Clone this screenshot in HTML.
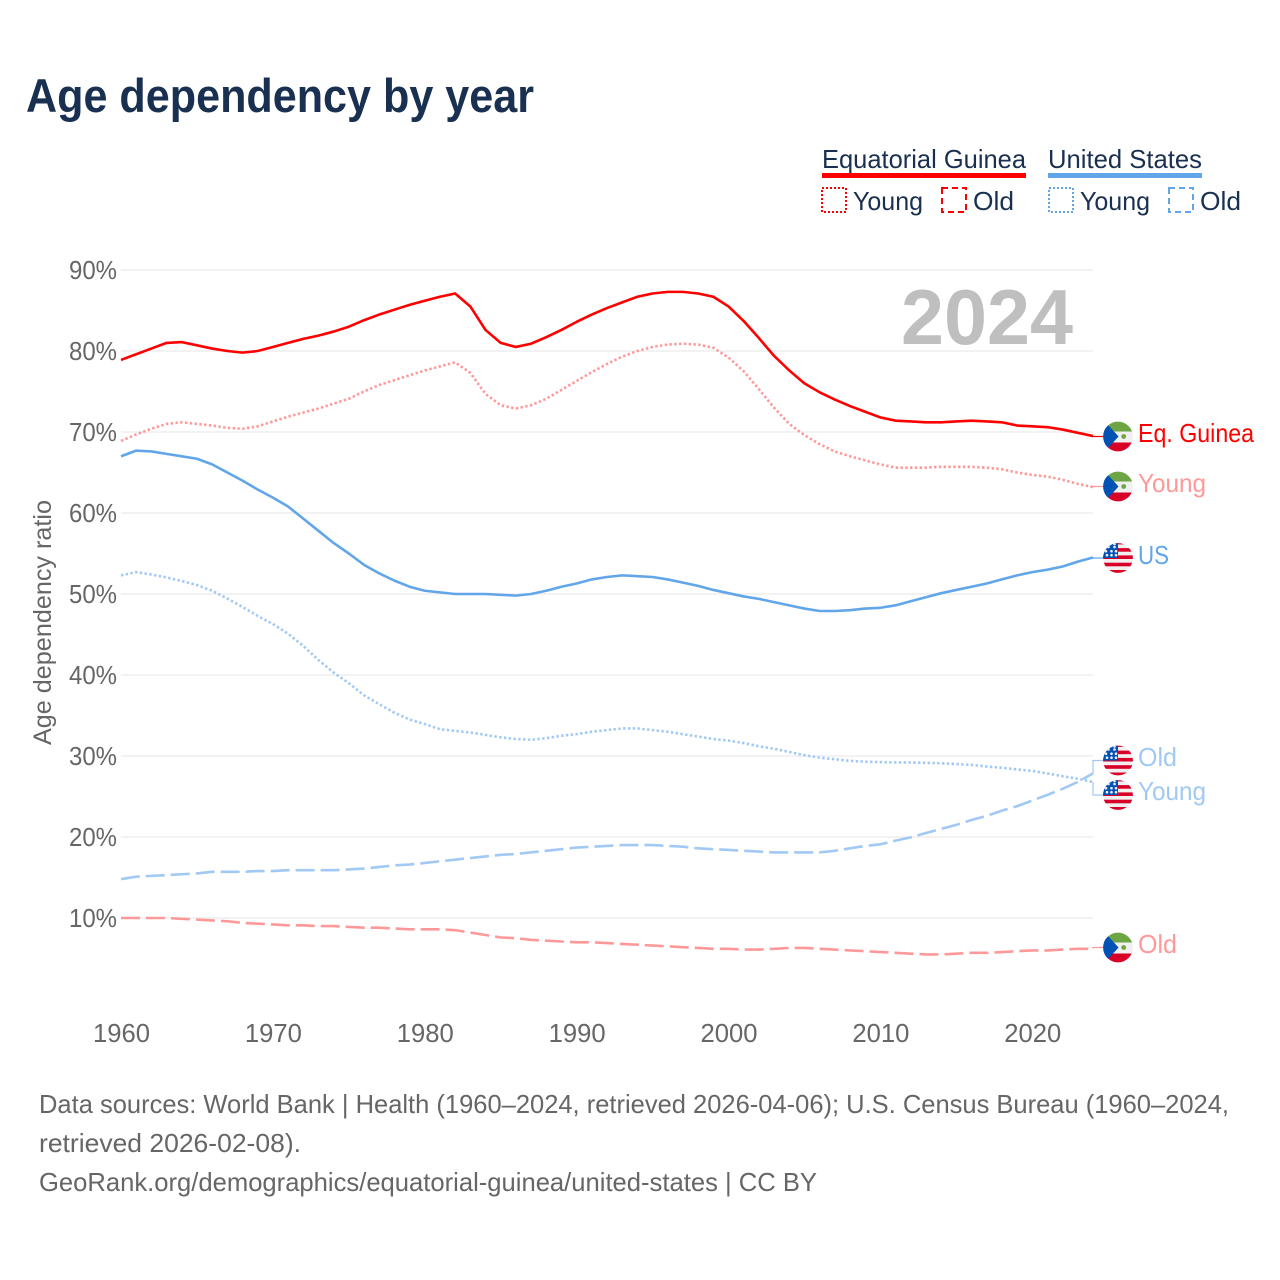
<!DOCTYPE html>
<html lang="en">
<head>
<meta charset="utf-8">
<title>Age dependency by year</title>
<style>
html,body{margin:0;padding:0;background:#fff;}
svg{display:block;font-family:"Liberation Sans",sans-serif;}
</style>
</head>
<body>
<svg id="chart" xmlns="http://www.w3.org/2000/svg" width="1280" height="1280" viewBox="0 0 1280 1280">
<defs>
<clipPath id="flag-clip"><circle cx="0" cy="0" r="14.9"/></clipPath>
<g id="flag-eg" clip-path="url(#flag-clip)">
<rect x="-16" y="-16" width="32" height="32" fill="#f0f0f0"/>
<rect x="-16" y="-16" width="32" height="11" fill="#6da544"/>
<rect x="-16" y="6" width="32" height="10" fill="#d80027"/>
<polygon points="-16,-16 -9,-10.5 0.5,0 -9,10.5 -16,16" fill="#0052b4"/>
<circle cx="5.7" cy="0" r="2.4" fill="#6da544"/>
</g>
<g id="flag-us" clip-path="url(#flag-clip)">
<rect x="-16" y="-16" width="32" height="32" fill="#f0f0f0"/>
<rect x="-16" y="-17.2" width="32" height="3.6" fill="#d80027"/>
<rect x="-16" y="-9.9" width="32" height="3.6" fill="#d80027"/>
<rect x="-16" y="-2.6" width="32" height="3.6" fill="#d80027"/>
<rect x="-16" y="4.7" width="32" height="3.6" fill="#d80027"/>
<rect x="-16" y="12" width="32" height="4" fill="#d80027"/>
<rect x="-16" y="-16" width="16" height="16" fill="#0052b4"/>
<g fill="#f0f0f0">
<circle cx="-9.5" cy="-11" r="1.3"/><circle cx="-3.5" cy="-11" r="1.3"/><circle cx="-3.5" cy="-14" r="1.3"/>
<circle cx="-12" cy="-6.8" r="1.3"/><circle cx="-6.5" cy="-6.8" r="1.3"/><circle cx="-2" cy="-6.8" r="1.3"/>
<circle cx="-11" cy="-2.8" r="1.3"/><circle cx="-6.5" cy="-2.8" r="1.3"/><circle cx="-2" cy="-2.8" r="1.3"/>
</g>
</g>
</defs>

<text x="26" y="112" font-size="47" font-weight="700" fill="#1a3050" textLength="508" lengthAdjust="spacingAndGlyphs">Age dependency by year</text>

<g font-size="26" fill="#1a3050">
<text x="822" y="168" textLength="204" lengthAdjust="spacingAndGlyphs">Equatorial Guinea</text>
<rect x="822" y="173" width="204" height="5" fill="#ff0000"/>
<text x="1048" y="168" textLength="154" lengthAdjust="spacingAndGlyphs">United States</text>
<rect x="1048" y="173" width="154" height="5" fill="#62a6ea"/>
<rect x="822" y="188" width="24" height="24" fill="none" stroke="#ff0000" stroke-width="2" stroke-dasharray="2 2"/>
<text x="853" y="210" textLength="70" lengthAdjust="spacingAndGlyphs">Young</text>
<rect x="942" y="188" width="24" height="24" fill="none" stroke="#ff0000" stroke-width="2" stroke-dasharray="6 4"/>
<text x="973" y="210" textLength="41" lengthAdjust="spacingAndGlyphs">Old</text>
<rect x="1049" y="188" width="24" height="24" fill="none" stroke="#62a6ea" stroke-width="2" stroke-dasharray="2 2"/>
<text x="1080" y="210" textLength="70" lengthAdjust="spacingAndGlyphs">Young</text>
<rect x="1169" y="188" width="24" height="24" fill="none" stroke="#62a6ea" stroke-width="2" stroke-dasharray="6 4"/>
<text x="1200" y="210" textLength="41" lengthAdjust="spacingAndGlyphs">Old</text>
</g>

<g id="grid"></g>
<g id="yticks"></g>
<g id="xticks"></g>

<text transform="translate(51,622.5) rotate(-90)" text-anchor="middle" font-size="25" fill="#666666" textLength="245" lengthAdjust="spacingAndGlyphs">Age dependency ratio</text>

<text x="901" y="344" font-size="78" font-weight="700" fill="#bfbfbf" textLength="172" lengthAdjust="spacingAndGlyphs">2024</text>

<g id="connectors"></g>
<g id="series"></g>

<g font-size="26">
<use href="#flag-eg" x="1118" y="436.5"/>
<text x="1138" y="442" fill="#ff0000" textLength="116" lengthAdjust="spacingAndGlyphs">Eq. Guinea</text>
<use href="#flag-eg" x="1118" y="486.5"/>
<text x="1138" y="492" fill="#ff9999" textLength="68" lengthAdjust="spacingAndGlyphs">Young</text>
<use href="#flag-us" x="1118" y="558"/>
<text x="1138" y="564" fill="#62a6ea" textLength="31" lengthAdjust="spacingAndGlyphs">US</text>
<use href="#flag-us" x="1118" y="760.5"/>
<text x="1138" y="766" fill="#a1c9f4" textLength="39" lengthAdjust="spacingAndGlyphs">Old</text>
<use href="#flag-us" x="1118" y="795"/>
<text x="1138" y="800" fill="#a1c9f4" textLength="68" lengthAdjust="spacingAndGlyphs">Young</text>
<use href="#flag-eg" x="1118" y="947.5"/>
<text x="1138" y="953" fill="#ff9999" textLength="39" lengthAdjust="spacingAndGlyphs">Old</text>
</g>

<g font-size="26" fill="#666666">
<text x="39" y="1113" textLength="1190" lengthAdjust="spacingAndGlyphs">Data sources: World Bank | Health (1960–2024, retrieved 2026-04-06); U.S. Census Bureau (1960–2024,</text>
<text x="39" y="1152" textLength="262" lengthAdjust="spacingAndGlyphs">retrieved 2026-02-08).</text>
<text x="39" y="1191" textLength="778" lengthAdjust="spacingAndGlyphs">GeoRank.org/demographics/equatorial-guinea/united-states | CC BY</text>
</g>
</svg>
<script>
const startYear = 1960;
const xTickYears = [1960, 1970, 1980, 1990, 2000, 2010, 2020];
const xTickLabels = ["1960", "1970", "1980", "1990", "2000", "2010", "2020"];
const yTickValues = [10, 20, 30, 40, 50, 60, 70, 80, 90];
const yTickLabels = ["10%", "20%", "30%", "40%", "50%", "60%", "70%", "80%", "90%"];

const egTotal = [78.9,79.6,80.3,81.0,81.1,80.7,80.3,80.0,79.8,80.0,80.5,81.0,81.5,81.9,82.4,83.0,83.8,84.5,85.1,85.7,86.2,86.7,87.1,85.5,82.6,81.0,80.5,80.9,81.7,82.6,83.6,84.5,85.3,86.0,86.7,87.1,87.3,87.3,87.1,86.7,85.5,83.7,81.6,79.4,77.6,76.0,74.9,74.0,73.2,72.5,71.8,71.4,71.3,71.2,71.2,71.3,71.4,71.3,71.2,70.8,70.7,70.6,70.3,69.9,69.5];
const egYoung = [68.9,69.7,70.4,71.0,71.2,71.0,70.8,70.5,70.4,70.7,71.3,71.9,72.4,72.9,73.5,74.1,75.0,75.8,76.4,77.0,77.6,78.1,78.6,77.3,74.7,73.3,72.9,73.3,74.1,75.2,76.3,77.4,78.4,79.3,80.0,80.5,80.8,80.9,80.8,80.4,79.2,77.5,75.3,73.0,71.0,69.6,68.5,67.6,67.0,66.5,66.0,65.6,65.6,65.6,65.7,65.7,65.7,65.6,65.4,65.0,64.7,64.5,64.1,63.6,63.2];
const egOld = [10.0,10.0,10.0,10.0,9.9,9.8,9.7,9.6,9.4,9.3,9.2,9.1,9.1,9.0,9.0,8.9,8.8,8.8,8.7,8.6,8.6,8.6,8.5,8.2,7.9,7.6,7.5,7.3,7.2,7.1,7.0,7.0,6.9,6.8,6.7,6.6,6.5,6.4,6.3,6.2,6.2,6.1,6.1,6.2,6.3,6.3,6.2,6.1,6.0,5.9,5.8,5.7,5.6,5.5,5.5,5.6,5.7,5.7,5.8,5.9,6.0,6.0,6.1,6.2,6.2];
const usTotal = [67.0,67.7,67.6,67.3,67.0,66.7,66.0,65.0,64.0,62.9,61.9,60.8,59.3,57.8,56.3,55.0,53.6,52.55,51.65,50.9,50.4,50.2,50.0,50.0,50.0,49.9,49.8,50.0,50.4,50.9,51.3,51.8,52.1,52.3,52.2,52.1,51.8,51.4,51.0,50.5,50.1,49.7,49.4,49.0,48.6,48.2,47.9,47.9,48.0,48.2,48.3,48.6,49.1,49.6,50.1,50.5,50.9,51.3,51.8,52.3,52.7,53.0,53.4,54.0,54.5];
const usYoung = [52.3,52.7,52.4,52.05,51.6,51.1,50.4,49.45,48.4,47.3,46.3,45.1,43.6,41.85,40.3,39.0,37.5,36.4,35.35,34.5,33.95,33.3,33.1,32.9,32.6,32.3,32.1,32.0,32.2,32.5,32.7,33.0,33.2,33.4,33.4,33.2,33.0,32.7,32.4,32.1,31.9,31.6,31.2,30.9,30.5,30.1,29.8,29.6,29.4,29.3,29.25,29.2,29.2,29.15,29.1,29.0,28.9,28.7,28.55,28.35,28.15,27.85,27.5,27.2,26.8];
const usOld = [14.8,15.1,15.2,15.3,15.4,15.5,15.7,15.7,15.7,15.8,15.8,15.9,15.9,15.9,15.9,16.0,16.1,16.3,16.5,16.6,16.8,17.0,17.2,17.4,17.6,17.8,17.9,18.1,18.3,18.5,18.7,18.8,18.9,19.0,19.0,19.0,18.9,18.8,18.6,18.5,18.4,18.3,18.2,18.1,18.1,18.1,18.1,18.3,18.6,18.9,19.1,19.55,19.95,20.5,21.0,21.5,22.1,22.6,23.25,23.8,24.5,25.2,25.95,26.8,27.85];

const NS = "http://www.w3.org/2000/svg";
function xScale(year) { return 121 + (year - 1960) * (972 / 64); }
function yScale(v) { return 999 - v * 8.1; }

function make(tag, attrs, parent) {
  const el = document.createElementNS(NS, tag);
  for (const k in attrs) el.setAttribute(k, attrs[k]);
  parent.appendChild(el);
  return el;
}

const gridG = document.getElementById("grid");
const yG = document.getElementById("yticks");
const xG = document.getElementById("xticks");
const seriesG = document.getElementById("series");
const connG = document.getElementById("connectors");

yTickValues.forEach(function (v, i) {
  const ln = make("line", { x1: 121, x2: 1093, y1: yScale(v), y2: yScale(v), stroke: "#e9e9e9", "stroke-width": 1.2 }, gridG);
  
  
  const t = make("text", { x: 69, y: yScale(v) + 9, "font-size": 26, fill: "#666666", textLength: 48, lengthAdjust: "spacingAndGlyphs" }, yG);
  t.textContent = yTickLabels[i];
  
  
});

xTickYears.forEach(function (yr, i) {
  const t = make("text", { x: xScale(yr) - 28, y: 1042, "font-size": 26, fill: "#666666", textLength: 57, lengthAdjust: "spacingAndGlyphs" }, xG);
  t.textContent = xTickLabels[i];
  
  
});

function drawSeries(values, color, width, dash, name) {
  const pts = values.map(function (v, i) {
    return xScale(startYear + i).toFixed(2) + "," + yScale(v).toFixed(2);
  }).join(" ");
  const attrs = { points: pts, fill: "none", stroke: color, "stroke-width": width, "stroke-linejoin": "round" };
  if (dash) attrs["stroke-dasharray"] = dash;
  const line = make("polyline", attrs, seriesG);
  
  
}

drawSeries(usOld, "#a1c9f4", 2.6, "19 6", "line-us-old");
drawSeries(egOld, "#ff9999", 2.6, "19 6", "line-eq-guinea-old");
drawSeries(usYoung, "#a1c9f4", 2.6, "2.4 2.4", "line-us-young");
drawSeries(egYoung, "#ff9999", 2.6, "2.4 2.4", "line-eq-guinea-young");
drawSeries(usTotal, "#62a6ea", 2.6, null, "line-us-total");
drawSeries(egTotal, "#ff0000", 2.6, null, "line-eq-guinea-total");

function drawConnector(value, flagY, color, name) {
  const last = xScale(startYear + value.length - 1);
  const p = make("polyline", { points: last + "," + yScale(value[value.length - 1]) + " " + last + "," + flagY + " 1104," + flagY, fill: "none", stroke: color, "stroke-width": 1.2 }, connG);
  
  
}

drawConnector(egTotal, 436.5, "#ff0000", "connector-eq-guinea");
drawConnector(egYoung, 486.5, "#ff9999", "connector-eq-guinea-young");
drawConnector(usTotal, 558, "#62a6ea", "connector-us");
drawConnector(usOld, 760.5, "#a1c9f4", "connector-us-old");
drawConnector(usYoung, 795, "#a1c9f4", "connector-us-young");
drawConnector(egOld, 947.5, "#ff9999", "connector-eq-guinea-old");
</script>
</body>
</html>
